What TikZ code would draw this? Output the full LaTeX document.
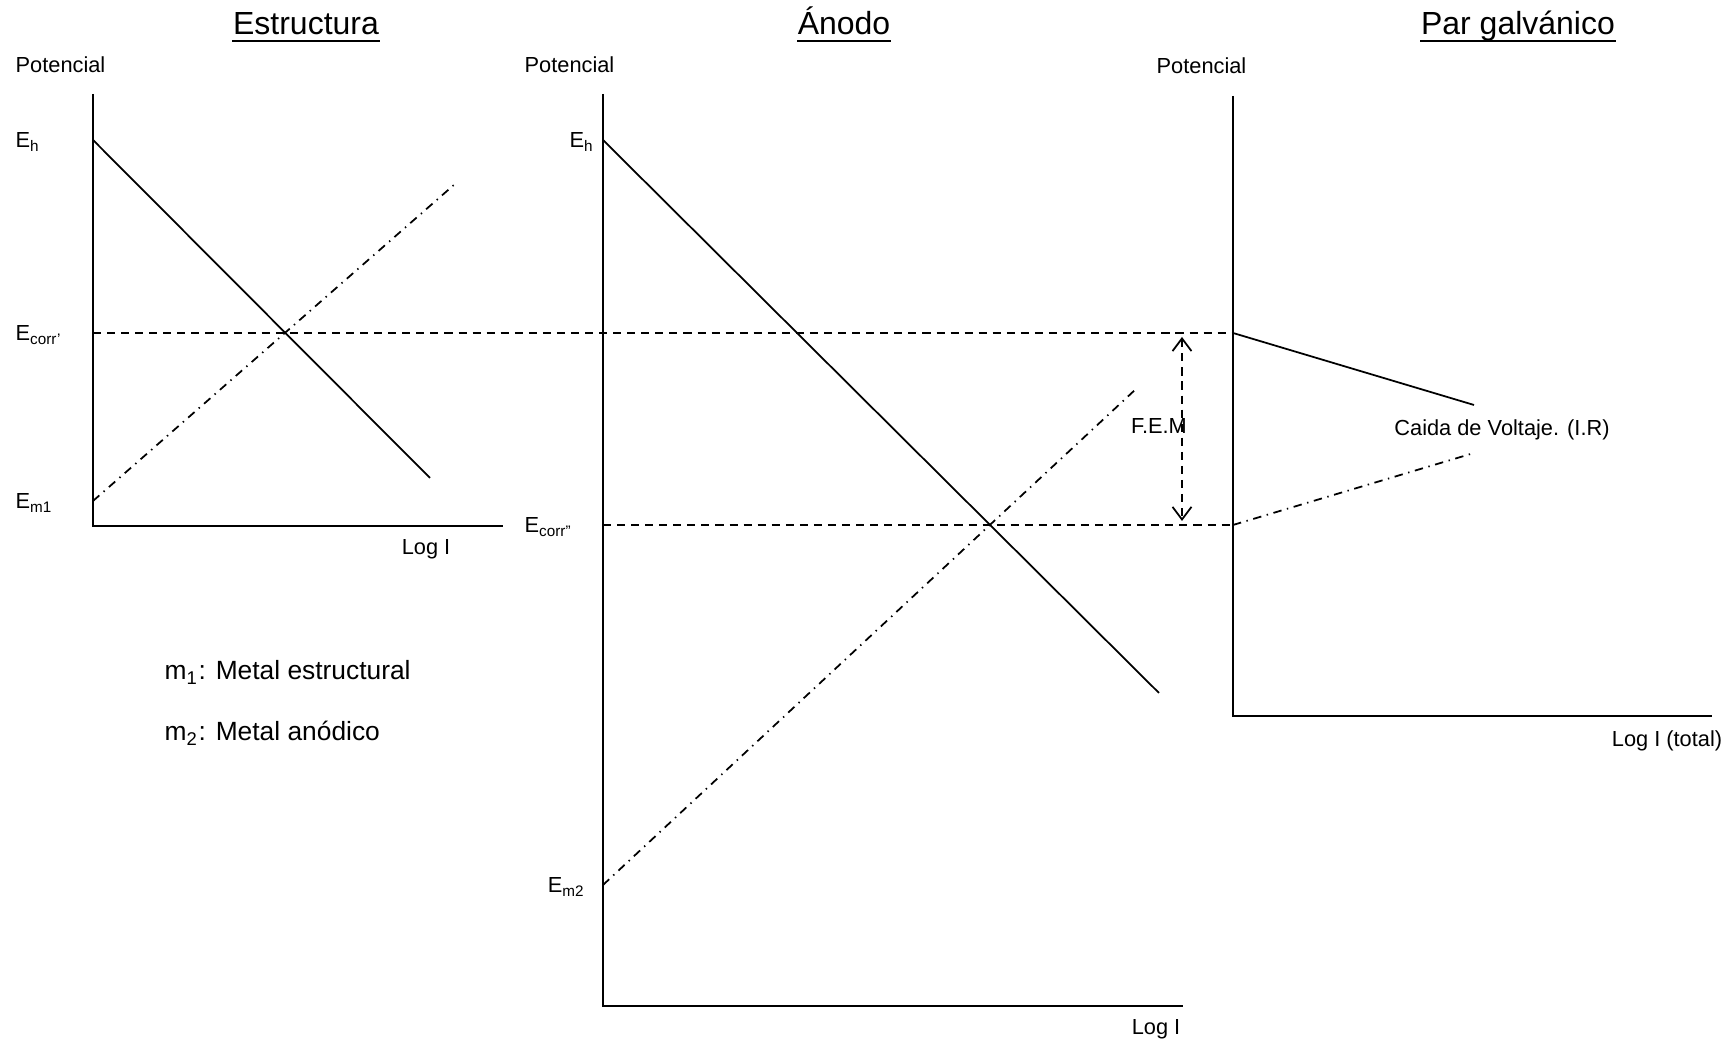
\documentclass[tikz,border=0pt]{standalone}
\usepackage{fontspec}
\setmainfont{Liberation Sans}
\usetikzlibrary{arrows.meta}

\begin{document}
\begin{tikzpicture}[
    lbl/.style={font=\fontsize{6.2}{7}\selectfont, inner sep=0pt},
    ttl/.style={font=\fontsize{9.1}{11}\selectfont, inner sep=0pt, anchor=base},
    leyenda/.style={font=\fontsize{7.5}{9}\selectfont, inner sep=0pt, anchor=base west},
    eje/.style={line width=0.6pt},
    curva/.style={line width=0.5pt},
    guia/.style={line width=0.5pt, dash pattern=on 2.3pt off 1.7pt},
    anodica/.style={line width=0.5pt, dash pattern=on 2.4pt off 1.6pt on 0.4pt off 1.6pt},
    raya/.style={line width=0.6pt}
  ]
  \useasboundingbox (0,0) rectangle (17.34,10.43);

  % Panel A: Estructura
  \node[ttl] (t1) at (3.06,10.08) {Estructura};
  \draw[raya] ([yshift=-1.8pt]t1.base west) -- ([yshift=-1.8pt]t1.base east);

  \coordinate (o1) at (0.93,5.17);
  \coordinate (y1) at (0.93,9.49);
  \coordinate (x1) at (5.03,5.17);
  \draw[eje] (y1) -- (o1) -- (x1);

  \node[lbl, anchor=base west] (pot1) at (0.15,9.70) {Potencial};
  \node[lbl, anchor=base west] (eh1) at (0.15,8.95) {E\textsubscript{h}};
  \node[lbl, anchor=base west] (ecorr1) at (0.15,7.02) {E\textsubscript{corr'}};
  \node[lbl, anchor=base west] (em1) at (0.15,5.34) {E\textsubscript{m1}};
  \node[lbl, anchor=base] (log1) at (4.26,4.88) {Log I};

  % Curves of the structural metal
  \coordinate (h1a) at (0.93,9.03);
  \coordinate (h1b) at (4.30,5.65);
  \coordinate (m1a) at (0.93,5.42);
  \coordinate (m1b) at (4.55,8.59);
  \draw[curva] (h1a) -- (h1b);
  \draw[anodica] (m1a) -- (m1b);

  % E_corr' runs across to the couple
  \coordinate (c1a) at (0.93,7.10);
  \coordinate (c1b) at (12.33,7.10);
  \draw[guia] (c1a) -- (c1b);

  \node[leyenda] (ley1) at (1.64,3.63) {m\textsubscript{1}: Metal estructural};
  \node[leyenda] (ley2) at (1.64,3.02) {m\textsubscript{2}: Metal anódico};

  % Panel B: Anodo
  \node[ttl] (t2) at (8.44,10.08) {Ánodo};
  \draw[raya] ([yshift=-1.8pt]t2.base west) -- ([yshift=-1.8pt]t2.base east);

  \coordinate (o2) at (6.03,0.37);
  \coordinate (y2) at (6.03,9.49);
  \coordinate (x2) at (11.83,0.37);
  \draw[eje] (y2) -- (o2) -- (x2);

  \node[lbl, anchor=base west] (pot2) at (5.24,9.70) {Potencial};
  \node[lbl, anchor=base east] (eh2) at (5.95,8.95) {E\textsubscript{h}};
  \node[lbl, anchor=base west] (ecorr2) at (5.24,5.10) {E\textsubscript{corr''}};
  \node[lbl, anchor=base east] (em2) at (5.86,1.50) {E\textsubscript{m2}};
  \node[lbl, anchor=base] (log2) at (11.56,0.08) {Log I};

  \coordinate (h2a) at (6.03,9.03);
  \coordinate (h2b) at (11.59,3.50);
  \coordinate (m2a) at (6.03,1.58);
  \coordinate (m2b) at (11.36,6.54);
  \draw[curva] (h2a) -- (h2b);
  \draw[anodica] (m2a) -- (m2b);

  \coordinate (c2a) at (6.03,5.18);
  \coordinate (c2b) at (12.33,5.18);
  \draw[guia] (c2a) -- (c2b);

  % F.E.M between both potentials
  \coordinate (fa) at (11.82,7.06);
  \coordinate (fb) at (11.82,5.22);
  \draw[guia, {Straight Barb[length=3.6pt,width=5.4pt]}-{Straight Barb[length=3.6pt,width=5.4pt]}] (fa) -- (fb);
  \node[lbl, anchor=base] (fem) at (11.59,6.09) {F.E.M};

  % Panel C: Par galvanico
  \node[ttl] (t3) at (15.18,10.08) {Par galvánico};
  \draw[raya] ([yshift=-1.8pt]t3.base west) -- ([yshift=-1.8pt]t3.base east);

  \coordinate (o3) at (12.33,3.27);
  \coordinate (y3) at (12.33,9.47);
  \coordinate (x3) at (17.12,3.27);
  \draw[eje] (y3) -- (o3) -- (x3);

  \node[lbl, anchor=base west] (pot3) at (11.56,9.69) {Potencial};
  \node[lbl, anchor=base] (log3) at (16.67,2.96) {Log I (total)};

  \coordinate (g1b) at (14.74,6.38);
  \coordinate (g2b) at (14.74,5.90);
  \draw[curva] (c1b) -- (g1b);
  \draw[anodica] (c2b) -- (g2b);
  \node[lbl, anchor=base] (ir) at (15.02,6.07) {Caida de Voltaje. (I.R)};
\end{tikzpicture}
\end{document}
